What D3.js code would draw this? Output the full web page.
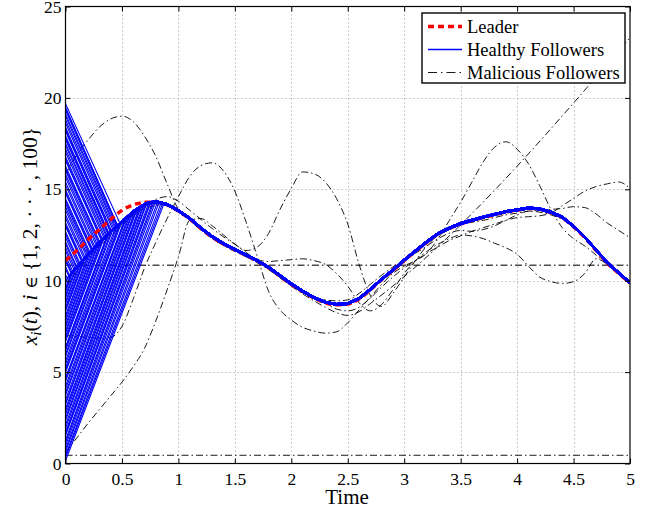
<!DOCTYPE html>
<html>
<head>
<meta charset="utf-8">
<script src="https://cdn.jsdelivr.net/npm/d3@7"></script>
<style>
  body { margin: 0; background: #fff; }
  svg text { font-family: "Liberation Serif", "Times New Roman", serif; fill: #000; }
</style>
</head>
<body>
<div id="chart"></div>
<script>
// time grid of the simulation (0.1 s steps)
var timeGrid = [0,0.1,0.2,0.3,0.4,0.5,0.6,0.7,0.8,0.9,1,1.1,1.2,1.3,1.4,1.5,1.6,1.7,1.8,1.9,2,2.1,2.2,2.3,2.4,2.5,2.6,2.7,2.8,2.9,3,3.1,3.2,3.3,3.4,3.5,3.6,3.7,3.8,3.9,4,4.1,4.2,4.3,4.4,4.5,4.6,4.7,4.8,4.9,5]
var xTicks = [0,0.5,1,1.5,2,2.5,3,3.5,4,4.5,5]
var yTicks = [0,5,10,15,20,25]

// leader trajectory
var leaderX = [11.1,11.65,12.25,12.8,13.35,13.85,14.15,14.3,14.3,14.15,
  13.8,13.38,12.85,12.38,12.0,11.68,11.38,11.06,10.7,10.25,
  9.8,9.4,9.05,8.8,8.68,8.72,9.0,9.5,10.05,10.55,
  11.1,11.6,12.1,12.55,12.85,13.1,13.28,13.45,13.6,13.75,
  13.85,13.95,13.9,13.72,13.45,12.95,12.35,11.65,10.95,10.4,9.86]

// bundle that the healthy followers collect into before reaching the leader
var bandT = [0.1,0.2,0.3,0.4,0.5,0.6,0.7]
var bandX = [10.7,11.4,12.05,12.65,13.2,13.75,14.15]

// healthy followers: initial state, and where each one reaches the bundle / leader
var healthyStart = [19.6,19.4,19.1,18.8,18.4,18.1,17.8,17.5,17.2,16.8,16.5,16.1,15.8,15.4,15.0,14.7,14.3,14.0,13.6,13.2,12.9,12.5,12.1,11.8,11.4,11.0,10.6,10.3,
  9.9,9.6,9.3,9.0,8.7,8.4,8.1,7.7,7.4,7.1,6.8,6.4,6.1,5.8,5.4,5.1,4.7,4.4,4.0,3.7,3.3,3.0,2.6,2.3,1.9,1.6,1.3,0.9,0.6,0.3,0.15,
  19.5,19.25,18.95,18.6,18.25,17.95,17.65,17.35,17.0,16.65,16.3,15.95,15.6,15.2,14.85,14.5,14.15,13.8,13.4,13.05,12.7,12.3,11.95,11.6,11.2,10.8,
  9.75,9.45,9.15,8.85,8.55,8.25,7.9,7.55,7.25,6.95,6.6,6.25,5.95,5.6,5.25,4.9,4.55,4.2,3.85,3.5,3.15,2.8,2.45,2.1,1.75,1.45,1.1,0.75,0.45]
var healthyJoinT = [.48,.46,.445,.43,.41,.395,.38,.366,.351,.332,.317,.298,.283,.263,.244,.229,.21,.195,.176,.156,.141,.122,.102,.088,.068,.049,.029,.015,
  .01,.04,.07,.1,.135,.165,.195,.235,.265,.295,.325,.365,.39,.42,.46,.485,.52,.545,.575,.6,.625,.65,.675,.7,.725,.75,.77,.8,.83,.86,.87,
  .463,.451,.437,.42,.402,.388,.373,.359,.341,.324,.307,.29,.273,.254,.237,.22,.202,.185,.166,.149,.132,.112,.095,.078,.059,.039,
  .025,.055,.085,.118,.15,.18,.215,.25,.28,.31,.345,.378,.405,.44,.473,.503,.533,.56,.588,.613,.638,.663,.688,.713,.738,.76,.785,.815,.845]
var healthyJoinX = [13.1,12.98,12.9,12.82,12.71,12.62,12.53,12.45,12.36,12.24,12.15,12.04,11.94,11.81,11.69,11.59,11.47,11.37,11.23,11.09,10.99,10.85,10.71,10.62,10.48,10.34,10.2,10.1,
  10.07,10.28,10.49,10.7,10.95,11.15,11.37,11.63,11.82,12.02,12.2,12.44,12.6,12.76,13.0,13.12,13.3,13.45,13.61,13.75,13.85,13.95,14.05,14.15,14.3,14.3,14.3,14.3,14.25,14.2,14.18,
  13.0,12.93,12.85,12.76,12.66,12.58,12.49,12.4,12.3,12.2,12.09,11.99,11.87,11.75,11.64,11.53,11.41,11.3,11.16,11.04,10.92,10.78,10.67,10.55,10.41,10.27,
  10.18,10.39,10.6,10.83,11.05,11.26,11.5,11.73,11.92,12.11,12.32,12.52,12.68,12.88,13.06,13.21,13.38,13.53,13.68,13.8,13.9,14.0,14.1,14.22,14.3,14.3,14.3,14.28,14.23]

// malicious followers
var malLowConst = 0.45
var malMidConst = 10.85
var malA = [15.8,16.9,17.7,18.4,18.85,19.0,18.7,17.9,16.8,15.3,
  13.9,13.3,12.78,12.3,11.92,11.6,11.3,10.98,10.6,10.15,
  9.7,9.28,8.9,8.55,8.25,8.1,8.3,8.75]
var malAEnd = 23.3
var malB = [0.6,1.4,2.2,2.95,3.7,4.45,5.3,6.3,7.8,9.5,
  11.3,13.3,13.4,13.0,12.5,12.0,11.55,11.15,11.05,11.1,
  11.15,11.2,11.1,10.9,10.4,9.7,8.8,8.35,8.7,9.5,
  10.4,11.1,11.6,12.0,12.3,12.5,12.45,12.3,12.05,11.8,
  11.45,10.8,10.2,9.95,9.85,9.95,10.4,11.2,10.9,10.45,9.95]
var malC = [7.0,6.95,6.9,6.85,6.9,7.5,9.0,10.7,12.1,13.4,
  14.6,15.7,16.3,16.45,16.0,14.9,13.2,11.3,9.4,8.4,
  7.85,7.45,7.25,7.13,7.2,7.7,8.4,9.1,9.8,10.4,
  10.8,11.1,11.5,12.3,13.3,14.3,15.4,16.5,17.3,17.6,
  17.2,16.4,15.2,13.9,12.9,12.3,11.9,11.4,10.9,10.45,10.0]
var malF = [18.4,16.9,15.4,14.1,13.3,13.35,13.7,14.1,14.45,14.6,
  14.35,13.85,13.35,12.85,12.4,12.0,11.65,11.85,12.6,13.9,
  15.05,15.95,15.85,15.4,14.5,13.1,10.9,9.2,8.6,9.3,
  10.2,11.1,11.9,12.5,12.9,13.1,13.2,13.3,13.45,13.6,
  13.7,13.8,13.85,13.9,13.95,14.05,14.0,13.65,13.15,12.75,12.35]
var malG = [9.6,10.5,11.2,11.85,12.45,13.0,13.55,13.95,14.1,14.15,
  13.8,13.38,12.85,12.38,12.0,11.68,11.38,11.06,10.7,10.25,
  9.8,9.4,9.05,8.75,8.45,8.35,8.55,9.05,9.65,10.2,
  10.7,11.1,11.5,11.85,12.2,12.45,12.7,12.9,13.1,13.3,
  13.45,13.5,13.55,13.7,14.1,14.5,14.9,15.15,15.3,15.4,15.05]
var malH = [13.0,12.2,11.6,11.9,12.5,13.1,13.6,14.0,14.2,14.15,
  13.8,13.38,12.85,12.38,12.0,11.68,11.38,11.06,10.7,10.25,
  9.8,9.4,9.1,8.95,8.9,8.95,9.3,9.8,10.3,10.75,
  11.15,11.5,11.9,12.3,12.6,12.75,12.7,12.8,13.0,13.3,
  13.6,13.8,13.75,13.6,13.35,12.9,12.3,11.65,10.95,10.4,9.86]

var legendLabels = ["Leader", "Healthy Followers", "Malicious Followers"]

var width = 654, height = 508
var plotLeft = 65.5, plotRight = 630, plotTop = 6.5, plotBottom = 463.5

var svg = d3.select("#chart").append("svg").attr("width", width).attr("height", height)

var x = d3.scaleLinear().domain([0, 5]).range([plotLeft, plotRight])
var y = d3.scaleLinear().domain([0, 25]).range([plotBottom, plotTop])

svg.append("defs").append("clipPath").attr("id", "plotclip")
  .append("rect").attr("x", plotLeft).attr("y", plotTop)
  .attr("width", plotRight - plotLeft).attr("height", plotBottom - plotTop)

// grid
var grid = svg.append("g").attr("stroke", "#9a9a9a").attr("stroke-dasharray", "1,3").attr("stroke-width", 1)
grid.selectAll(".gx").data(xTicks.slice(1, -1)).enter().append("line")
  .attr("x1", function(d){ return Math.round(x(d)) + 0.5 }).attr("x2", function(d){ return Math.round(x(d)) + 0.5 })
  .attr("y1", plotTop).attr("y2", plotBottom)
grid.selectAll(".gy").data(yTicks.slice(1, -1)).enter().append("line")
  .attr("y1", function(d){ return Math.round(y(d)) + 0.5 }).attr("y2", function(d){ return Math.round(y(d)) + 0.5 })
  .attr("x1", plotLeft).attr("x2", plotRight)

var plot = svg.append("g").attr("clip-path", "url(#plotclip)")

var smoothLine = d3.line().x(function(d){ return x(d[0]) }).y(function(d){ return y(d[1]) }).curve(d3.curveMonotoneX)
var straightLine = d3.line().x(function(d){ return x(d[0]) }).y(function(d){ return y(d[1]) })

function pairs(ts, vs){
  return vs.map(function(v, i){ return [ts[i], v] })
}

// malicious followers
var malSeries = [
  [[0, malLowConst], [5, malLowConst]],
  [[0, malMidConst], [5, malMidConst]],
  pairs(timeGrid, malA).concat([[5, malAEnd]]),
  pairs(timeGrid, malB),
  pairs(timeGrid, malC),
  pairs(timeGrid, malF),
  pairs(timeGrid, malG),
  pairs(timeGrid, malH)
]
plot.selectAll(".mal").data(malSeries).enter().append("path")
  .attr("class", "mal")
  .attr("d", function(d){ return d.length > 2 ? smoothLine(d) : straightLine(d) })
  .attr("fill", "none").attr("stroke", "#000").attr("stroke-width", function(d, i){ return i == 1 ? 1.5 : 0.9 })
  .attr("stroke-opacity", function(d, i){ return i == 1 ? 0.7 : 1 })
  .attr("stroke-dasharray", "7,3,1.5,3")

// leader: the tracked part sits under the followers, the transient part above
var leaderPts = pairs(timeGrid, leaderX)
var leaderLate = plot.append("g")
var followerLayer = plot.append("g")
var leaderEarly = plot.append("g")
leaderLate.append("path").attr("d", smoothLine(leaderPts.filter(function(p){ return p[0] >= 0.7 })))
  .attr("fill", "none").attr("stroke", "#ff0000").attr("stroke-width", 3.4)
  .attr("stroke-dasharray", "6,4")
leaderEarly.append("path").attr("d", smoothLine(leaderPts.filter(function(p){ return p[0] <= 0.7 })))
  .attr("fill", "none").attr("stroke", "#ff0000").attr("stroke-width", 3.4)
  .attr("stroke-dasharray", "6,4")

// healthy followers
var bandPts = pairs(bandT, bandX)
var followerPaths = healthyStart.map(function(s, i){
  var jt = healthyJoinT[i]
  var pts = [[0, s], [jt, healthyJoinX[i]]]
  bandPts.forEach(function(p){ if (p[0] > jt) pts.push(p) })
  leaderPts.forEach(function(p){ if (p[0] > Math.max(jt, 0.7)) pts.push(p) })
  return pts
})
followerLayer.selectAll("path").data(followerPaths).enter().append("path")
  .attr("d", straightLine)
  // small pixel spread so the merged bundle reads as a thick line
  .attr("transform", function(d, i){ return "translate(0," + ((i % 5) * 0.45 - 1.4) + ")" })
  .attr("fill", "none").attr("stroke", "#0000ff").attr("stroke-width", 1.1)

// frame and inward ticks
svg.append("rect").attr("x", plotLeft).attr("y", plotTop)
  .attr("width", plotRight - plotLeft).attr("height", plotBottom - plotTop)
  .attr("fill", "none").attr("stroke", "#000").attr("stroke-width", 1.2)

var fmt = d3.format("~g")
var axB = svg.append("g").attr("transform", "translate(0," + plotBottom + ")")
  .call(d3.axisBottom(x).tickValues(xTicks).tickSize(-5).tickPadding(9).tickFormat(fmt))
var axL = svg.append("g").attr("transform", "translate(" + plotLeft + ",0)")
  .call(d3.axisLeft(y).tickValues(yTicks).tickSize(-5).tickPadding(4).tickFormat(fmt))
var axT = svg.append("g").attr("transform", "translate(0," + plotTop + ")")
  .call(d3.axisTop(x).tickValues(xTicks).tickSize(-5).tickFormat(""))
var axR = svg.append("g").attr("transform", "translate(" + plotRight + ",0)")
  .call(d3.axisRight(y).tickValues(yTicks).tickSize(-5).tickFormat(""))
;[axB, axL, axT, axR].forEach(function(a){
  a.select(".domain").remove()
  a.selectAll("line").attr("stroke", "#000")
  a.selectAll("text").attr("font-size", 17.5).attr("font-family", "Liberation Serif")
})

// axis titles
svg.append("text").attr("x", 347).attr("y", 503.5).attr("text-anchor", "middle")
  .attr("font-size", 21).text("Time")

var ylab = svg.append("text").attr("transform", "translate(37,236) rotate(-90)")
  .attr("text-anchor", "middle").attr("font-size", 21.5)
ylab.append("tspan").attr("font-style", "italic").text("x")
ylab.append("tspan").attr("font-style", "italic").attr("font-size", 15).attr("dy", 4).text("i")
ylab.append("tspan").attr("dy", -4).text("(")
ylab.append("tspan").attr("font-style", "italic").text("t")
ylab.append("tspan").text("), ")
ylab.append("tspan").attr("font-style", "italic").text("i ")
ylab.append("tspan").attr("font-family", "DejaVu Serif").attr("font-size", 17).text("\u2208")
ylab.append("tspan").text(" {1, 2, \u00b7 \u00b7 \u00b7 , 100}")

// legend
var lg = svg.append("g")
lg.append("rect").attr("x", 422).attr("y", 13).attr("width", 203).attr("height", 70)
  .attr("fill", "#fff").attr("stroke", "#000").attr("stroke-width", 1.4)
var legendStyles = [
  { stroke: "#ff0000", width: 3.4, dash: "6,4" },
  { stroke: "#0000ff", width: 1.4, dash: null },
  { stroke: "#000", width: 0.9, dash: "9,4,1.5,4" }
]
legendLabels.forEach(function(lbl, i){
  var cy = 26.5 + i * 23
  lg.append("line").attr("x1", 428).attr("x2", 462).attr("y1", cy).attr("y2", cy)
    .attr("stroke", legendStyles[i].stroke).attr("stroke-width", legendStyles[i].width)
    .attr("stroke-dasharray", legendStyles[i].dash)
  lg.append("text").attr("x", 467).attr("y", cy + 6).attr("font-size", 18.5).text(lbl)
})
</script>
</body>
</html>
